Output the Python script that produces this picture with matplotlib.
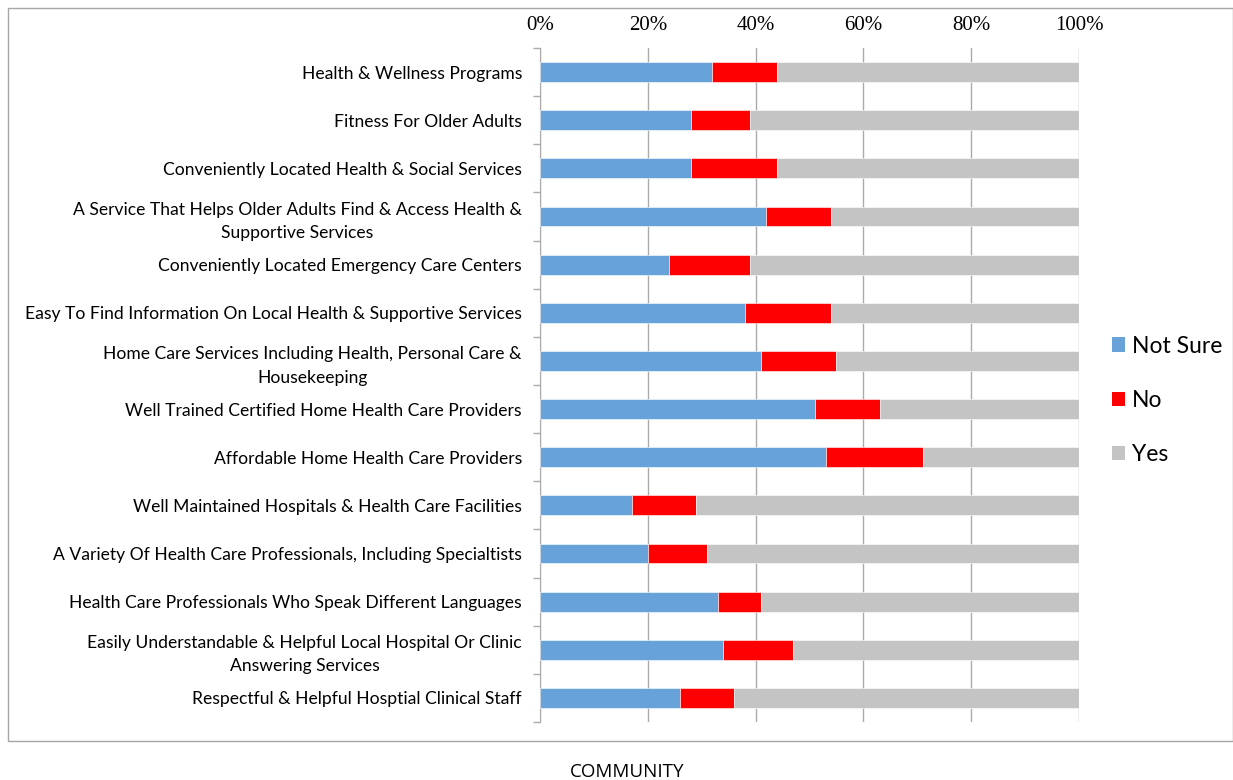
import matplotlib.pyplot as plt
import numpy as np
from matplotlib.patches import Rectangle, Patch

categories = [
    "Health & Wellness Programs",
    "Fitness For Older Adults",
    "Conveniently Located Health & Social Services",
    "A Service That Helps Older Adults Find & Access Health &\nSupportive Services",
    "Conveniently Located Emergency Care Centers",
    "Easy To Find Information On Local Health & Supportive Services",
    "Home Care Services Including Health, Personal Care &\nHousekeeping",
    "Well Trained Certified Home Health Care Providers",
    "Affordable Home Health Care Providers",
    "Well Maintained Hospitals & Health Care Facilities",
    "A Variety Of Health Care Professionals, Including Specialtists",
    "Health Care Professionals Who Speak Different Languages",
    "Easily Understandable & Helpful Local Hospital Or Clinic\nAnswering Services",
    "Respectful & Helpful Hosptial Clinical Staff",
]
not_sure = [32, 28, 28, 42, 24, 38, 41, 51, 53, 17, 20, 33, 34, 26]
no = [12, 11, 16, 12, 15, 16, 14, 12, 18, 12, 11, 8, 13, 10]
yes = [100 - a - b for a, b in zip(not_sure, no)]

series = ["Not Sure", "No", "Yes"]
colors = ["#67A3D9", "#FF0000", "#C4C4C4"]

fig = plt.figure(figsize=(12.33, 7.8), dpi=100)
ax = fig.add_axes([540 / 1233, 1 - 722 / 780, 539 / 1233, 674 / 780])

y = np.arange(len(categories))
left = np.zeros(len(categories))
for vals, c in zip([not_sure, no, yes], colors):
    ax.barh(y, vals, left=left, height=0.41, color=c, edgecolor="white", linewidth=0.4, zorder=3)
    left += np.array(vals)

ax.set_xlim(0, 100)
ax.set_ylim(len(categories) - 0.5, -0.5)

# top percentage axis
ax.xaxis.tick_top()
ax.set_xticks(range(0, 101, 20))
ax.set_xticklabels([f"{v}%" for v in range(0, 101, 20)], family="Liberation Serif", fontsize=15)
ax.tick_params(axis="x", length=0, pad=9)
ax.grid(axis="x", color="#ABABAB", linewidth=1, zorder=0)

ax.set_yticks(y)
ax.set_yticklabels(categories, family="Lato", fontsize=12.6, linespacing=1.55, multialignment="center")
ax.set_yticks(np.arange(-0.5, len(categories)), minor=True)
ax.tick_params(axis="y", which="major", length=0, pad=13)
ax.tick_params(axis="y", which="minor", length=5, color="#ABABAB", width=1)

for s in ["top", "right", "bottom"]:
    ax.spines[s].set_visible(False)
ax.spines["left"].set_color("#ABABAB")

handles = [Patch(facecolor=c, edgecolor="none") for c in colors]
fig.legend(handles, series, loc="upper left", bbox_to_anchor=(1091 / 1233, 1 - 315 / 780),
           frameon=False, prop={"family": "Lato", "size": 16.5},
           handlelength=0.6, handleheight=0.6, handletextpad=0.3, labelspacing=1.45)

fig.add_artist(Rectangle((8 / 1233, 1 - 741 / 780), 1225 / 1233, 733 / 780,
                         transform=fig.transFigure, fill=False, edgecolor="#A6A6A6", linewidth=1))
fig.text(627 / 1233, 1 - 772 / 780, "COMMUNITY", ha="center", va="center", family="Open Sans", fontsize=13.5)

fig.savefig("out.png", dpi=100)
